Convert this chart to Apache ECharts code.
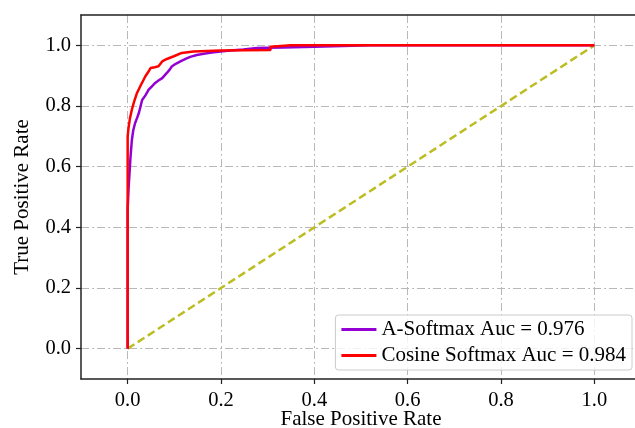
<!DOCTYPE html>
<html>
<head>
<meta charset="utf-8">
<script src="https://cdn.jsdelivr.net/npm/echarts@6/dist/echarts.min.js"></script>
<style>
  html, body { margin: 0; padding: 0; background: #fff; }
  #main { width: 635px; height: 428px; }
</style>
</head>
<body>
<div id="main"></div>
<script>
// A-Softmax ROC points
const fprA = [0, 0, 0.002, 0.004, 0.006, 0.009, 0.012, 0.016, 0.020, 0.024, 0.031, 0.038, 0.045, 0.052, 0.059, 0.066, 0.074, 0.084, 0.090, 0.095, 0.104, 0.113, 0.124, 0.134, 0.148, 0.163, 0.180, 0.199, 0.220, 0.248, 0.277, 0.300, 0.334, 0.400, 0.520, 1.0];
const tprA = [0, 0.46, 0.53, 0.58, 0.63, 0.688, 0.72, 0.744, 0.76, 0.777, 0.82, 0.835, 0.854, 0.865, 0.876, 0.884, 0.892, 0.909, 0.92, 0.931, 0.94, 0.947, 0.955, 0.962, 0.968, 0.972, 0.976, 0.98, 0.983, 0.986, 0.991, 0.992, 0.993, 0.995, 1.0, 1.0];
// Cosine Softmax ROC points
const fprC = [0, 0, 0.002, 0.005, 0.009, 0.014, 0.020, 0.027, 0.032, 0.038, 0.044, 0.049, 0.058, 0.066, 0.074, 0.084, 0.099, 0.116, 0.141, 0.199, 0.250, 0.306, 0.306, 0.350, 1.0];
const tprC = [0, 0.70, 0.73, 0.76, 0.788, 0.815, 0.843, 0.865, 0.88, 0.898, 0.912, 0.925, 0.928, 0.931, 0.947, 0.955, 0.964, 0.975, 0.98, 0.983, 0.984, 0.985, 0.995, 1.0, 1.0];
// chance line
const diagX = [0, 1];
const diagY = [0, 1];
const ticks = [0, 0.2, 0.4, 0.6, 0.8, 1.0];
const names = ['A-Softmax Auc = 0.976', 'Cosine Softmax Auc = 0.984'];

const font = "'Liberation Serif', 'Times New Roman', serif";
const zip = (xs, ys) => xs.map((x, i) => [x, ys[i]]);
const gridLine = { show: true, customValues: ticks, lineStyle: { color: '#b8b8b8', width: 1, type: [8, 3, 2, 3] } };

let myChart = echarts.init(document.getElementById('main'));
let option = {
    animation: false,
    backgroundColor: '#fff',
    grid: { left: 81, top: 15, right: -6, bottom: 49, containLabel: false, outerBoundsMode: 'none' },
    legend: {
        data: names,
        orient: 'vertical',
        right: 3,
        bottom: 58,
        icon: 'rect',
        itemWidth: 35,
        itemHeight: 3,
        itemGap: 5,
        padding: [4, 6, 4, 6],
        borderColor: '#cccccc',
        borderWidth: 1,
        borderRadius: 3,
        backgroundColor: 'rgba(255,255,255,0.8)',
        textStyle: { fontFamily: font, fontSize: 21, color: '#000' }
    },
    xAxis: [
        {
            type: 'value',
            min: -0.1,
            max: 1.1,
            name: 'False Positive Rate',
            nameLocation: 'middle',
            nameGap: 30,
            nameMoveOverlap: false,
            nameTextStyle: { fontFamily: font, fontSize: 21, color: '#000' },
            axisLine: { onZero: false, lineStyle: { color: '#222', width: 1.5 } },
            axisTick: { show: true, inside: false, length: 5, customValues: ticks, lineStyle: { color: '#222', width: 1.2 } },
            axisLabel: { customValues: ticks, fontFamily: font, fontSize: 20.5, color: '#000', margin: 11, formatter: v => v.toFixed(1) },
            splitLine: gridLine
        },
        {
            type: 'value',
            position: 'top',
            min: -0.1,
            max: 1.1,
            axisLine: { show: true, onZero: false, lineStyle: { color: '#222', width: 1.5 } },
            axisTick: { show: false },
            axisLabel: { show: false },
            splitLine: { show: false }
        }
    ],
    yAxis: {
        type: 'value',
        min: -0.1,
        max: 1.1,
        name: 'True Positive Rate',
        nameLocation: 'middle',
        nameGap: 48,
        nameMoveOverlap: false,
        nameTextStyle: { fontFamily: font, fontSize: 21, color: '#000' },
        axisLine: { show: true, onZero: false, lineStyle: { color: '#222', width: 1.5 } },
        axisTick: { show: true, inside: false, length: 5, customValues: ticks, lineStyle: { color: '#222', width: 1.2 } },
        axisLabel: { customValues: ticks, fontFamily: font, fontSize: 20.5, color: '#000', margin: 10, formatter: v => v.toFixed(1) },
        splitLine: gridLine
    },
    series: [
        {
            name: 'chance',
            type: 'line',
            data: zip(diagX, diagY),
            symbol: 'none',
            lineStyle: { color: '#bcbd22', width: 2.5, type: [8, 4] },
            z: 1
        },
        {
            name: names[0],
            type: 'line',
            data: zip(fprA, tprA),
            symbol: 'none',
            color: '#9400d3',
            lineStyle: { width: 2.5 },
            z: 2
        },
        {
            name: names[1],
            type: 'line',
            data: zip(fprC, tprC),
            symbol: 'none',
            color: '#ff0000',
            lineStyle: { width: 2.5 },
            z: 3
        }
    ]
};
myChart.setOption(option);
</script>
</body>
</html>
